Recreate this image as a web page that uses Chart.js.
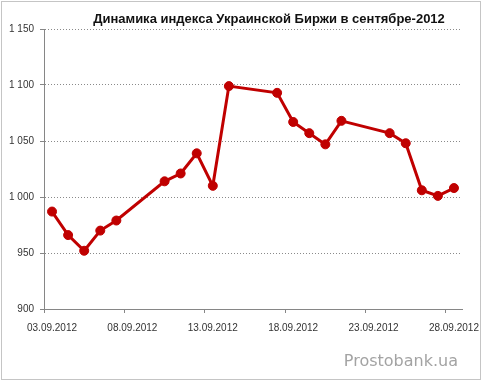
<!DOCTYPE html>
<html>
<head>
<meta charset="utf-8">
<script src="https://cdn.jsdelivr.net/npm/chart.js@4.4.1/dist/chart.umd.min.js"></script>
<style>
html,body{margin:0;padding:0;background:#fff;}
#wrap{width:483px;height:382px;position:relative;}
canvas{display:block;}
</style>
</head>
<body>
<div id="wrap"><canvas id="c" width="483" height="382"></canvas></div>
<script>
// ---- data ----
const titleText = 'Динамика индекса Украинской Биржи в сентябре-2012';
const watermark = 'Prostobank.ua';
const tradingDays = [3,4,5,6,7,10,11,12,13,14,17,18,19,20,21,24,25,26,27,28];
const indexValues = [987,966,952,970,979,1014,1021,1039,1010,1099,1093,1067,1057,1047,1068,1057,1048,1006,1001,1008];
const xTickDays = [3,8,13,18,23,28];
const xTickLabels = ['03.09.2012','08.09.2012','13.09.2012','18.09.2012','23.09.2012','28.09.2012'];
const yMin = 900, yMax = 1150, yStep = 50;

const points = tradingDays.map((d,i)=>({x:d+0.5, y:indexValues[i]}));

const decor = {
  id:'decor',
  beforeDraw(chart){
    const ctx = chart.ctx;
    ctx.save();
    ctx.fillStyle='#fff';
    ctx.fillRect(0,0,chart.width,chart.height);
    ctx.strokeStyle='#8a8a8a';
    ctx.lineWidth=1;
    ctx.setLineDash([1,1]);
    ctx.strokeRect(1.5,1.5,chart.width-4,chart.height-4);
    ctx.restore();
  },
  afterDraw(chart){
    const ctx = chart.ctx;
    ctx.save();
    ctx.fillStyle='#111';
    ctx.font='bold 13px "Liberation Sans", Arial, sans-serif';
    ctx.textAlign='center';
    ctx.textBaseline='middle';
    ctx.fillText(titleText, 269, 19);
    ctx.fillStyle='#a3a3a3';
    ctx.font='16px "DejaVu Sans", sans-serif';
    ctx.textAlign='right';
    ctx.textBaseline='alphabetic';
    ctx.fillText(watermark, 458, 366);
    ctx.restore();
  }
};

new Chart(document.getElementById('c'), {
  type:'line',
  data:{datasets:[{
    data:points,
    borderColor:'#c00000',
    backgroundColor:'#c00000',
    borderWidth:3,
    pointRadius:4.5,
    pointBorderWidth:1,
    pointBackgroundColor:'#c00000',
    pointBorderColor:'#c00000',
    tension:0,
    fill:false
  }]},
  options:{
    responsive:false,
    animation:false,
    events:[],
    layout:{padding:{left:0,right:21,top:29,bottom:0}},
    plugins:{legend:{display:false},title:{display:false},tooltip:{enabled:false}},
    scales:{
      x:{
        type:'linear',
        min:3, max:29,
        afterBuildTicks:s=>{ s.ticks = xTickDays.map(v=>({value:v})); },
        afterFit:s=>{ s.height = 73; },
        grid:{drawOnChartArea:false, drawTicks:true, tickLength:4, tickColor:'#868686', color:'#868686'},
        border:{display:true,color:'#868686',width:1},
        ticks:{
          autoSkip:false, maxRotation:0, minRotation:0,
          padding:9, labelOffset:8,
          color:'#333',
          font:{family:'"Liberation Sans", Arial, sans-serif', size:10},
          callback:(v)=>{ const i = xTickDays.indexOf(v); return i>=0 ? xTickLabels[i] : ''; }
        }
      },
      y:{
        min:yMin, max:yMax,
        afterFit:s=>{ s.width = 44; },
        grid:{color:'#8a8a8a', lineWidth:1, tickLength:4, tickColor:'#868686', tickBorderDash:[]},
        border:{display:true,color:'#868686',width:1,dash:[1,2]},
        ticks:{
          stepSize:yStep, padding:6,
          color:'#333',
          font:{family:'"Liberation Sans", Arial, sans-serif', size:10},
          callback:(v)=> v>=1000 ? Math.floor(v/1000)+' '+String(v%1000).padStart(3,'0') : String(v)
        }
      }
    }
  },
  plugins:[decor]
});
</script>
</body>
</html>
